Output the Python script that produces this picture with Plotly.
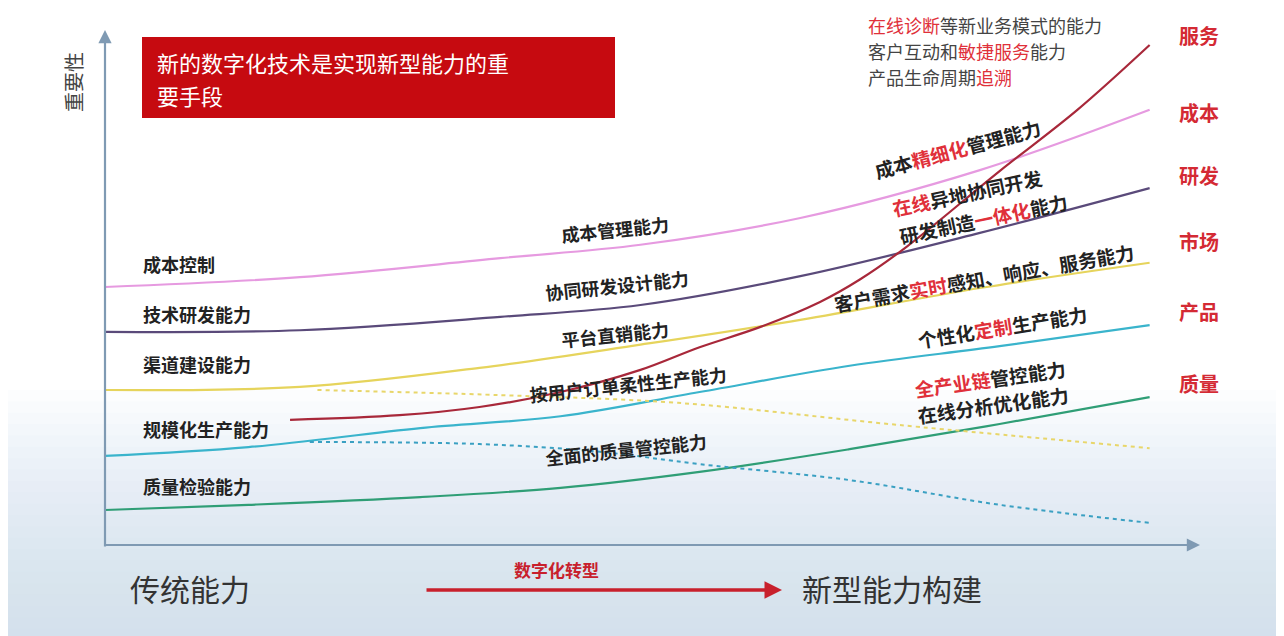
import plotly.graph_objects as go

# ---------------- data (importance level along the transformation axis, 0-100) ----------------
cost_x = [0, 17.8, 36.1, 48.9, 63.5, 79.9, 95.4]
cost = [50.1, 52.0, 55.7, 58.3, 63.5, 72.8, 84.5]            # 成本

rnd_x = [0, 17.8, 36.1, 48.9, 63.5, 79.9, 95.4]
rnd = [41.4, 41.7, 44.3, 46.6, 52.2, 60.6, 69.3]             # 研发

market_x = [0, 17.8, 34.2, 48.9, 63.5, 79.9, 95.4]
market = [30.1, 30.7, 34.4, 38.9, 43.7, 49.9, 54.8]          # 市场

product_x = [0, 13.1, 28.8, 41.6, 54.3, 68.0, 81.7, 95.4]
product = [17.3, 19.0, 22.7, 25.0, 29.7, 34.8, 38.6, 42.7]   # 产品

quality_x = [0, 13.1, 28.8, 41.6, 54.3, 68.0, 81.7, 95.4]
quality = [6.8, 7.8, 9.3, 11.1, 14.2, 18.6, 23.5, 28.7]      # 质量

service_x = [16.9, 26.9, 34.2, 41.6, 48.9, 54.3, 59.8, 65.3, 68.9, 73.2, 81.7, 88.8, 95.4]
service = [24.3, 25.2, 26.8, 29.7, 34.0, 38.4, 42.3, 47.2, 51.5, 57.9, 72.6, 84.5, 97.1]  # 服务

market_old_x = [19.4, 36.1, 52.3, 72.5, 95.4]
market_old = [30.1, 29.1, 27.6, 23.3, 18.8]                   # 传统渠道 (declining)

product_old_x = [18.7, 34.2, 45.2, 54.3, 68.0, 81.7, 95.4]
product_old = [20.0, 19.6, 18.1, 15.7, 12.6, 7.8, 4.3]        # 规模化生产 (declining)

right_labels = ["服务", "成本", "研发", "市场", "产品", "质量"]
left_labels = ["成本控制", "技术研发能力", "渠道建设能力", "规模化生产能力", "质量检验能力"]
mid_labels = ["成本管理能力", "协同研发设计能力", "平台直销能力", "按用户订单柔性生产能力", "全面的质量管控能力"]

# ---------------- figure ----------------
PAGE_OFF = 8                      # default page body margin
W, H = 1284 - PAGE_OFF, 636 - PAGE_OFF
X0, X1, Y0, Y1 = 105, 1200, 545, 30   # plot area in page pixels
FONT = "Noto Sans CJK SC"
RED = "#e0303a"


def px(x):
    return (x - X0) / (X1 - X0)


def py(y):
    return (Y0 - y) / (Y0 - Y1)


def red(s):
    return f"<span style='color:{RED}'>{s}</span>"


fig = go.Figure()

solid = [
    (cost_x, cost, "#e69ae0"),
    (rnd_x, rnd, "#5a4a7a"),
    (market_x, market, "#e6d45c"),
    (product_x, product, "#3ab4cc"),
    (quality_x, quality, "#2f9e76"),
    (service_x, service, "#a8283a"),
]
for xs, ys, c in solid:
    fig.add_trace(go.Scatter(x=xs, y=ys, mode="lines", line=dict(color=c, width=2.2, shape="spline", smoothing=1.0),
                             hoverinfo="skip", showlegend=False))
for xs, ys, c in [(market_old_x, market_old, "#e8d66a"), (product_old_x, product_old, "#3aa0c2")]:
    fig.add_trace(go.Scatter(x=xs, y=ys, mode="lines",
                             line=dict(color=c, width=2, dash="4px,4px", shape="spline"),
                             hoverinfo="skip", showlegend=False))

ann = []


def txt(x, y, text, size, color="#222", angle=0, xanchor="center", **kw):
    ann.append(dict(x=px(x), y=py(y), xref="paper", yref="paper", text=text, showarrow=False, textangle=angle,
                    xanchor=xanchor, yanchor="middle", font=dict(family=FONT, size=size, color=color), **kw))


def arrow(hx, hy, tx, ty, color, width, size):
    ann.append(dict(x=px(hx), y=py(hy), xref="paper", yref="paper", ax=tx - hx, ay=ty - hy, text="",
                    showarrow=True, arrowhead=2, arrowsize=size, arrowwidth=width, arrowcolor=color))


# axes arrows
ax_col = "#7f9ab3"
arrow(105, 30, 105, 548, ax_col, 2.2, 1.2)
arrow(1200, 545, 103, 545, ax_col, 2.2, 1.2)
# y-axis title
txt(73, 82, "重要性", 20, "#444", angle=-90)
# right labels
for lab, yy in zip(right_labels, [36, 112, 176, 241, 311, 383]):
    txt(1199, yy, f"<b>{lab}</b>", 20, "#d42a34")
# left labels
for lab, yy in zip(left_labels, [264, 314, 364, 429, 486]):
    txt(141, yy, f"<b>{lab}</b>", 18, xanchor="left")
# middle labels
for lab, (cx, cy) in zip(mid_labels, [(615, 229), (617, 285), (615, 334), (628, 384), (626, 449)]):
    txt(cx, cy, f"<b>{lab}</b>", 18, angle=-6)
# right-side new capability labels
new_labels = [
    ("成本" + red("精细化") + "管理能力", 958, 148, -15),
    (red("在线") + "异地协同开发", 967, 192, -12),
    ("研发制造" + red("一体化") + "能力", 983, 219, -12),
    ("客户需求" + red("实时") + "感知、响应、服务能力", 984, 277, -10),
    ("个性化" + red("定制") + "生产能力", 1002, 327, -9),
    (red("全产业链") + "管控能力", 990, 378, -8),
    ("在线分析优化能力", 993, 404, -8),
]
for t, cx, cy, ang in new_labels:
    txt(cx, cy, f"<b>{t}</b>", 19, angle=ang)
# top right note
note = [red("在线诊断") + "等新业务模式的能力", "客户互动和" + red("敏捷服务") + "能力", "产品生命周期" + red("追溯")]
for i, t in enumerate(note):
    txt(866, 25 + i * 26, t, 18, "#444", xanchor="left")
# red box text
txt(155, 62, "新的数字化技术是实现新型能力的重", 22, "#ffffff", xanchor="left")
txt(155, 95, "要手段", 22, "#ffffff", xanchor="left")
# bottom texts
txt(128, 588, "传统能力", 30, "#333", xanchor="left")
txt(800, 588, "新型能力构建", 30, "#333", xanchor="left")
txt(556, 569, "<b>数字化转型</b>", 17, "#c8202c")
arrow(782, 590, 425, 590, "#c8202c", 3.5, 1.0)

shapes = []
# soft bluish background toward the bottom
n = 22
for i in range(n):
    y0 = 390 + i * (640 - 390) / n
    shapes.append(dict(type="rect", xref="paper", yref="paper", x0=px(-20), x1=px(1300), y0=py(y0), y1=py(650),
                       fillcolor="rgba(208,226,245,0.055)", line=dict(width=0), layer="below"))
# red title box
shapes.append(dict(type="rect", xref="paper", yref="paper", x0=px(142), x1=px(615), y0=py(118), y1=py(37),
                   fillcolor="#c60a10", line=dict(width=0), layer="below"))

fig.update_layout(
    width=W, height=H,
    margin=dict(l=X0 - PAGE_OFF, r=W - (X1 - PAGE_OFF), t=Y1 - PAGE_OFF, b=H - (Y0 - PAGE_OFF), pad=0),
    paper_bgcolor="#ffffff", plot_bgcolor="rgba(0,0,0,0)",
    xaxis=dict(range=[0, 100], visible=False, fixedrange=True),
    yaxis=dict(range=[0, 100], visible=False, fixedrange=True),
    annotations=ann, shapes=shapes, showlegend=False,
    font=dict(family=FONT),
)

fig.write_html("out.html")
